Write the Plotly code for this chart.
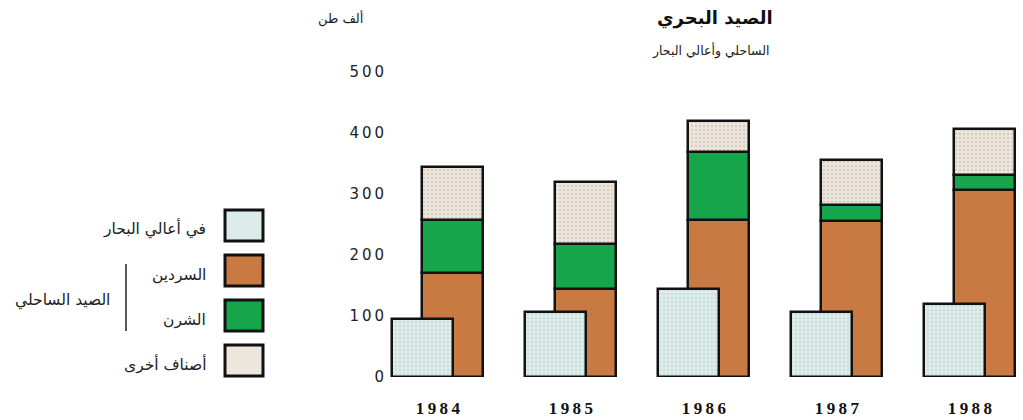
import numpy as np
import plotly.graph_objs as go

# values in thousand tonnes
years = ['1984', '1985', '1986', '1987', '1988']
offshore = [95, 107, 144, 107, 120]      # في أعالي البحار
sardine = [170, 144, 257, 256, 307]      # السردين
horse_mackerel = [87, 74, 112, 26, 24]   # الشرن
others = [87, 102, 51, 74, 76]           # أصناف أخرى
y_ticks = [0, 100, 200, 300, 400, 500]

legend_names = ['في أعالي البحار', 'السردين', 'الشرن', 'أصناف أخرى']
colors = ['#dcecea', '#c97a42', '#17a54c', '#ece6dd']

AR_FONT = 'DejaVu Sans'

# group layout: offshore box sits left, coastal stack right, overlapping a bit
W = 0.459
OFF_OFFSET = -0.342
STACK_OFFSET = -0.117

L, R, T, B = 390, 3, 72, 43
X_RANGE = [-0.36, 4.377]

xs = list(range(len(years)))
fig = go.Figure()

# coastal stack first, so the offshore box is drawn over it
stack_parts = [(sardine, colors[1], None), (horse_mackerel, colors[2], None), (others, colors[3], '#b9aea2')]
base = np.zeros(len(years))
for vals, col, dots in stack_parts:
    marker = dict(color=col, line=dict(color='#111111', width=2.5))
    if dots:
        marker['pattern'] = dict(shape='.', fgcolor=dots, bgcolor=col, size=4, solidity=0.25)
    fig.add_trace(go.Bar(x=xs, y=vals, base=base.copy(), width=W, offset=STACK_OFFSET,
                         marker=marker, showlegend=False, hoverinfo='y'))
    base += np.array(vals)

fig.add_trace(go.Bar(x=xs, y=offshore, width=W, offset=OFF_OFFSET,
                     marker=dict(color=colors[0], line=dict(color='#111111', width=2.5),
                                 pattern=dict(shape='.', fgcolor='#b4cbc8', bgcolor=colors[0], size=4, solidity=0.25)),
                     showlegend=False, hoverinfo='y'))

fig.update_layout(
    width=1023, height=420,
    margin=dict(l=L, r=R, t=T, b=B, autoexpand=False),
    paper_bgcolor='white', plot_bgcolor='white',
    barmode='overlay',
    bargap=0,
    xaxis=dict(range=X_RANGE, tickvals=xs,
               ticktext=['<b>' + '\u2009'.join(y) + '</b>' for y in years],
               showgrid=False, zeroline=False, showline=False,
               ticks='outside', ticklen=16, tickcolor='rgba(0,0,0,0)',
               tickfont=dict(family='Liberation Serif', size=17, color='#111111')),
    yaxis=dict(range=[0, 500], tickvals=y_ticks,
               ticktext=['\u2009'.join(str(v)) for v in y_ticks],
               showgrid=False, zeroline=False, showline=False,
               ticks='outside', ticklen=2, tickcolor='rgba(0,0,0,0)',
               tickfont=dict(family='DejaVu Sans', size=15, color='#222222')),
    showlegend=False,
)

# pixel -> paper helpers for the hand-made legend and titles
def px(p):
    return (p - L) / (1023.0 - L - R)

def py(p):
    return (420 - B - p) / (420.0 - T - B)

def label(text, x, y, size, xanchor='center', color='#222222'):
    fig.add_annotation(text=text, x=px(x), y=py(y), xref='paper', yref='paper',
                       xanchor=xanchor, yanchor='middle', showarrow=False,
                       font=dict(family=AR_FONT, size=size, color=color))

label('<b>الصيد البحري</b>', 715, 18, 18, color='#111111')
label('الساحلي وأعالي البحار', 710, 50, 12.5)
label('ألف طن', 340, 19, 13)

# legend swatches and labels
box_tops = [210, 255, 300, 345]
label_y = [228, 275, 320, 364]
for top, ly, name, col in zip(box_tops, label_y, legend_names, colors):
    fig.add_shape(type='rect', xref='paper', yref='paper',
                  x0=px(225), x1=px(263), y0=py(top), y1=py(top + 31),
                  fillcolor=col, line=dict(color='#111111', width=3))
    label(name, 208, ly, 15.5, xanchor='right')

# bracket grouping the coastal catch
fig.add_shape(type='line', xref='paper', yref='paper', x0=px(126), x1=px(126),
              y0=py(264), y1=py(331), line=dict(color='#222222', width=1.5))
label('الصيد الساحلي', 112, 300, 15.5, xanchor='right')

# page body has a default 8px margin, drop it so the figure fills the window
fig.write_html("out.html", config={'displayModeBar': False},
               post_script="document.body.style.margin='0';")
